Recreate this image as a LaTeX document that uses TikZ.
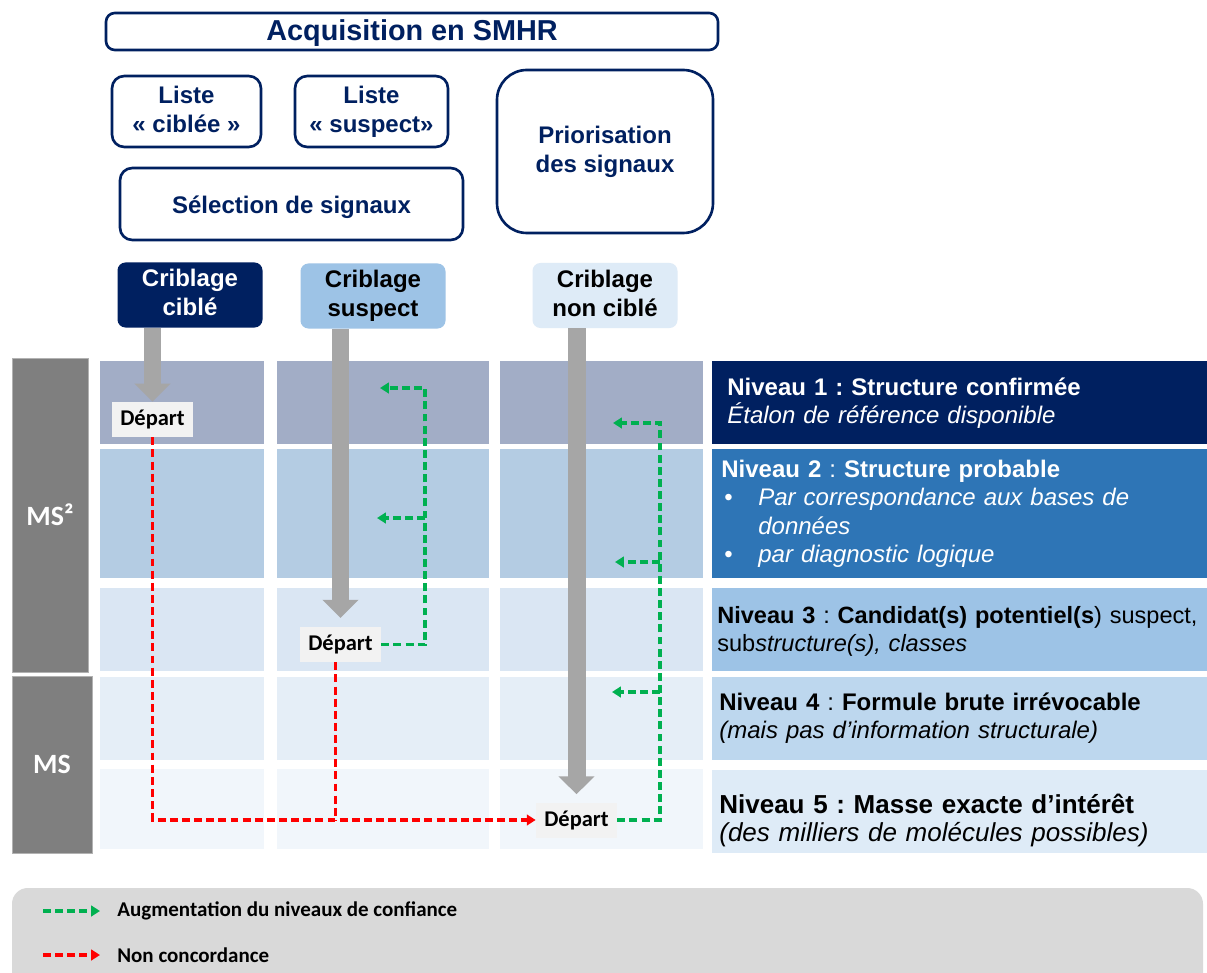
\documentclass[tikz,border=0pt]{standalone}
\usepackage{fontspec}
\setmainfont{Liberation Sans}
\newfontfamily\calib{Carlito}
\usetikzlibrary{arrows.meta}
\frenchspacing

\definecolor{navy}{HTML}{002060}
\definecolor{lvltwo}{HTML}{2E75B6}
\definecolor{lvlthree}{HTML}{9DC3E6}
\definecolor{lvlfour}{HTML}{BDD7EE}
\definecolor{lvlfive}{HTML}{DEEBF7}
\definecolor{rowone}{HTML}{A2ADC6}
\definecolor{rowtwo}{HTML}{B4CCE3}
\definecolor{rowthree}{HTML}{DAE6F3}
\definecolor{rowfour}{HTML}{E5EEF7}
\definecolor{rowfive}{HTML}{F1F6FB}
\definecolor{arrowgray}{HTML}{A6A6A6}
\definecolor{msgray}{HTML}{7F7F7F}
\definecolor{departgray}{HTML}{F2F2F2}
\definecolor{legendgray}{HTML}{D9D9D9}
\definecolor{confgreen}{HTML}{00B050}
\definecolor{discred}{HTML}{FF0000}

\newlength\pxl
\setlength\pxl{0.02cm}

\tikzset{
  topbox/.style={draw=navy, line width=1.5pt, rounded corners=5pt, text=navy, align=center, inner sep=0pt,
    text depth=2.9pt, execute at begin node={\rule{0pt}{13.5pt}}, font=\bfseries\fontsize{13.66}{16.5}\selectfont},
  crib/.style={rounded corners=4.5pt, minimum width=145\pxl, minimum height=65\pxl, align=center, inner sep=0pt,
    text depth=2.9pt, execute at begin node={\rule{0pt}{13.5pt}}, font=\bfseries\fontsize{13.66}{16.5}\selectfont},
  depart/.style={fill=departgray, minimum width=81\pxl, minimum height=35\pxl, inner sep=0pt,
    font=\calib\bfseries\fontsize{12.8}{14}\selectfont},
  msbox/.style={fill=msgray, draw=gray!60, text=white, inner sep=0pt, font=\calib\bfseries\fontsize{15.9}{18}\selectfont},
  lvltext/.style={anchor=base west, align=left, inner sep=0pt, text width=500\pxl,
    font=\fontsize{13.66}{16.3}\selectfont},
  legtext/.style={anchor=west, inner sep=0pt, font=\calib\bfseries\fontsize{11.95}{14}\selectfont},
  bigarrow/.style={draw=arrowgray, line width=10.24pt, -{Triangle[width=19.9pt,length=10.2pt]}},
  gdash/.style={draw=confgreen, line width=2pt, dash pattern=on 4.5pt off 2.4pt, -{Triangle[length=5pt,width=6pt]}},
  rdash/.style={draw=discred, line width=2pt, dash pattern=on 4.5pt off 2.4pt, -{Triangle[length=5pt,width=6pt]}}
}

\begin{document}
\begin{tikzpicture}[x=0.02cm, y=-0.02cm]
\clip (0,0) rectangle (1207,973);
\fill[white] (0,0) rectangle (1207,973);

\node[topbox, minimum width=612\pxl, minimum height=37\pxl, font=\bfseries\fontsize{16.4}{18}\selectfont] (acq) at (412,31.5) {Acquisition en SMHR};
\node[topbox, minimum width=149\pxl, minimum height=71\pxl, rounded corners=7pt] (lcib) at (186.5,111.5) {Liste\\« ciblée »};
\node[topbox, minimum width=153\pxl, minimum height=71\pxl, rounded corners=7pt] (lsus) at (371.5,111.5) {Liste\\« suspect»};
\node[topbox, minimum width=216\pxl, minimum height=163\pxl, rounded corners=17pt] (prio) at (605,151.5) {Priorisation\\des signaux};
\node[topbox, minimum width=343\pxl, minimum height=72\pxl, rounded corners=7pt] (sel) at (291.5,204) {Sélection de signaux};

\node[crib, fill=navy, text=white] (ccib) at (190,295) {Criblage\\ciblé};
\node[crib, fill=lvlthree] (csus) at (373,296) {Criblage\\suspect};
\node[crib, fill=lvlfive] (cnon) at (605,295.5) {Criblage\\non ciblé};

\foreach \ytop/\ybot/\col in {361/444/rowone, 449/578/rowtwo, 588/671/rowthree, 677/760/rowfour, 769/849/rowfive}
  \foreach \xl/\xr in {100/264, 277/489, 500/703}
    \fill[\col] (\xl,\ytop) rectangle (\xr,\ybot);

\foreach \ytop/\ybot/\col in {361/444/navy, 449/578/lvltwo, 588/671/lvlthree, 677/760/lvlfour, 770/853/lvlfive}
  \fill[\col] (712,\ytop) rectangle (1207,\ybot);

\node[msbox, minimum width=76\pxl, minimum height=314\pxl] (mstwo) at (50,515) {MS²};
\node[msbox, minimum width=80\pxl, minimum height=177\pxl] (msone) at (52,764.5) {MS};

\node[lvltext, text=white] (niv1) at (727,395) {\textbf{Niveau 1 : Structure confirmée}\\\textit{Étalon de référence disponible}};
\node[lvltext, text=white] (niv2) at (721,477) {\textbf{Niveau 2} : \textbf{Structure probable}\\
  \makebox[37\pxl][l]{\hspace*{3\pxl}•}\textit{Par correspondance aux bases de}\\
  \hspace*{37\pxl}\textit{données}\\
  \makebox[37\pxl][l]{\hspace*{3\pxl}•}\textit{par diagnostic logique}};
\node[lvltext, font=\fontsize{13.4}{16.3}\selectfont] (niv3) at (717,623) {\textbf{Niveau 3} : \textbf{Candidat(s) potentiel(s}) suspect,\\sub\textit{structure(s), classes}};
\node[lvltext] (niv4) at (719,710) {\textbf{Niveau 4} : \textbf{Formule brute irrévocable}\\\textit{(mais pas d’information structurale)}};
\node[lvltext, font=\fontsize{14.8}{16.5}\selectfont] (niv5) at (719,813) {\textbf{Niveau 5 : Masse exacte d’intérêt}\\\textit{(des milliers de molécules possibles)}};

\node[depart] (dep1) at (152.5,419.5) {Départ};
\node[depart] (dep2) at (340.5,644.5) {Départ};
\node[depart] (dep3) at (576.5,820) {Départ};

\draw[bigarrow] (dep1 |- ccib.south) -- (dep1.north);
\draw[bigarrow, shorten >=5pt] (dep2 |- csus.south) -- (dep2.north);
\draw[bigarrow, shorten >=4.5pt] (dep3 |- cnon.south) -- (dep3.north);

\coordinate (g2top) at (425,388);
\coordinate (g2end) at (380,388);
\coordinate (g2mid) at (425,518);
\coordinate (g2midend) at (377,518);
\draw[gdash] (dep2.east) -| (g2top) -- (g2end);
\draw[gdash] (g2mid) -- (g2midend);

\coordinate (g3top) at (660,423);
\coordinate (g3end) at (613,423);
\coordinate (g3mid) at (660,562);
\coordinate (g3midend) at (615,562);
\coordinate (g3low) at (660,692);
\coordinate (g3lowend) at (612,692);
\draw[gdash] (dep3.east) -| (g3top) -- (g3end);
\draw[gdash] (g3mid) -- (g3midend);
\draw[gdash] (g3low) -- (g3lowend);

\draw[rdash] (dep1.south) |- (dep3.west);
\draw[rdash, -] ([xshift=-5\pxl]dep2.south) -- ([xshift=-5\pxl]dep2.south |- dep3.west);

\fill[legendgray, rounded corners=9pt] (12,888) rectangle (1203,1010);
\coordinate (lga) at (43,911);
\coordinate (lgb) at (100,911);
\coordinate (lra) at (43,955);
\coordinate (lrb) at (100,955);
\draw[gdash] (lga) -- (lgb);
\draw[rdash] (lra) -- (lrb);
\node[legtext] (legconf) at (117,911) {Augmentation du niveaux de confiance};
\node[legtext] (legdisc) at (117,955) {Non concordance};
\end{tikzpicture}
\end{document}
